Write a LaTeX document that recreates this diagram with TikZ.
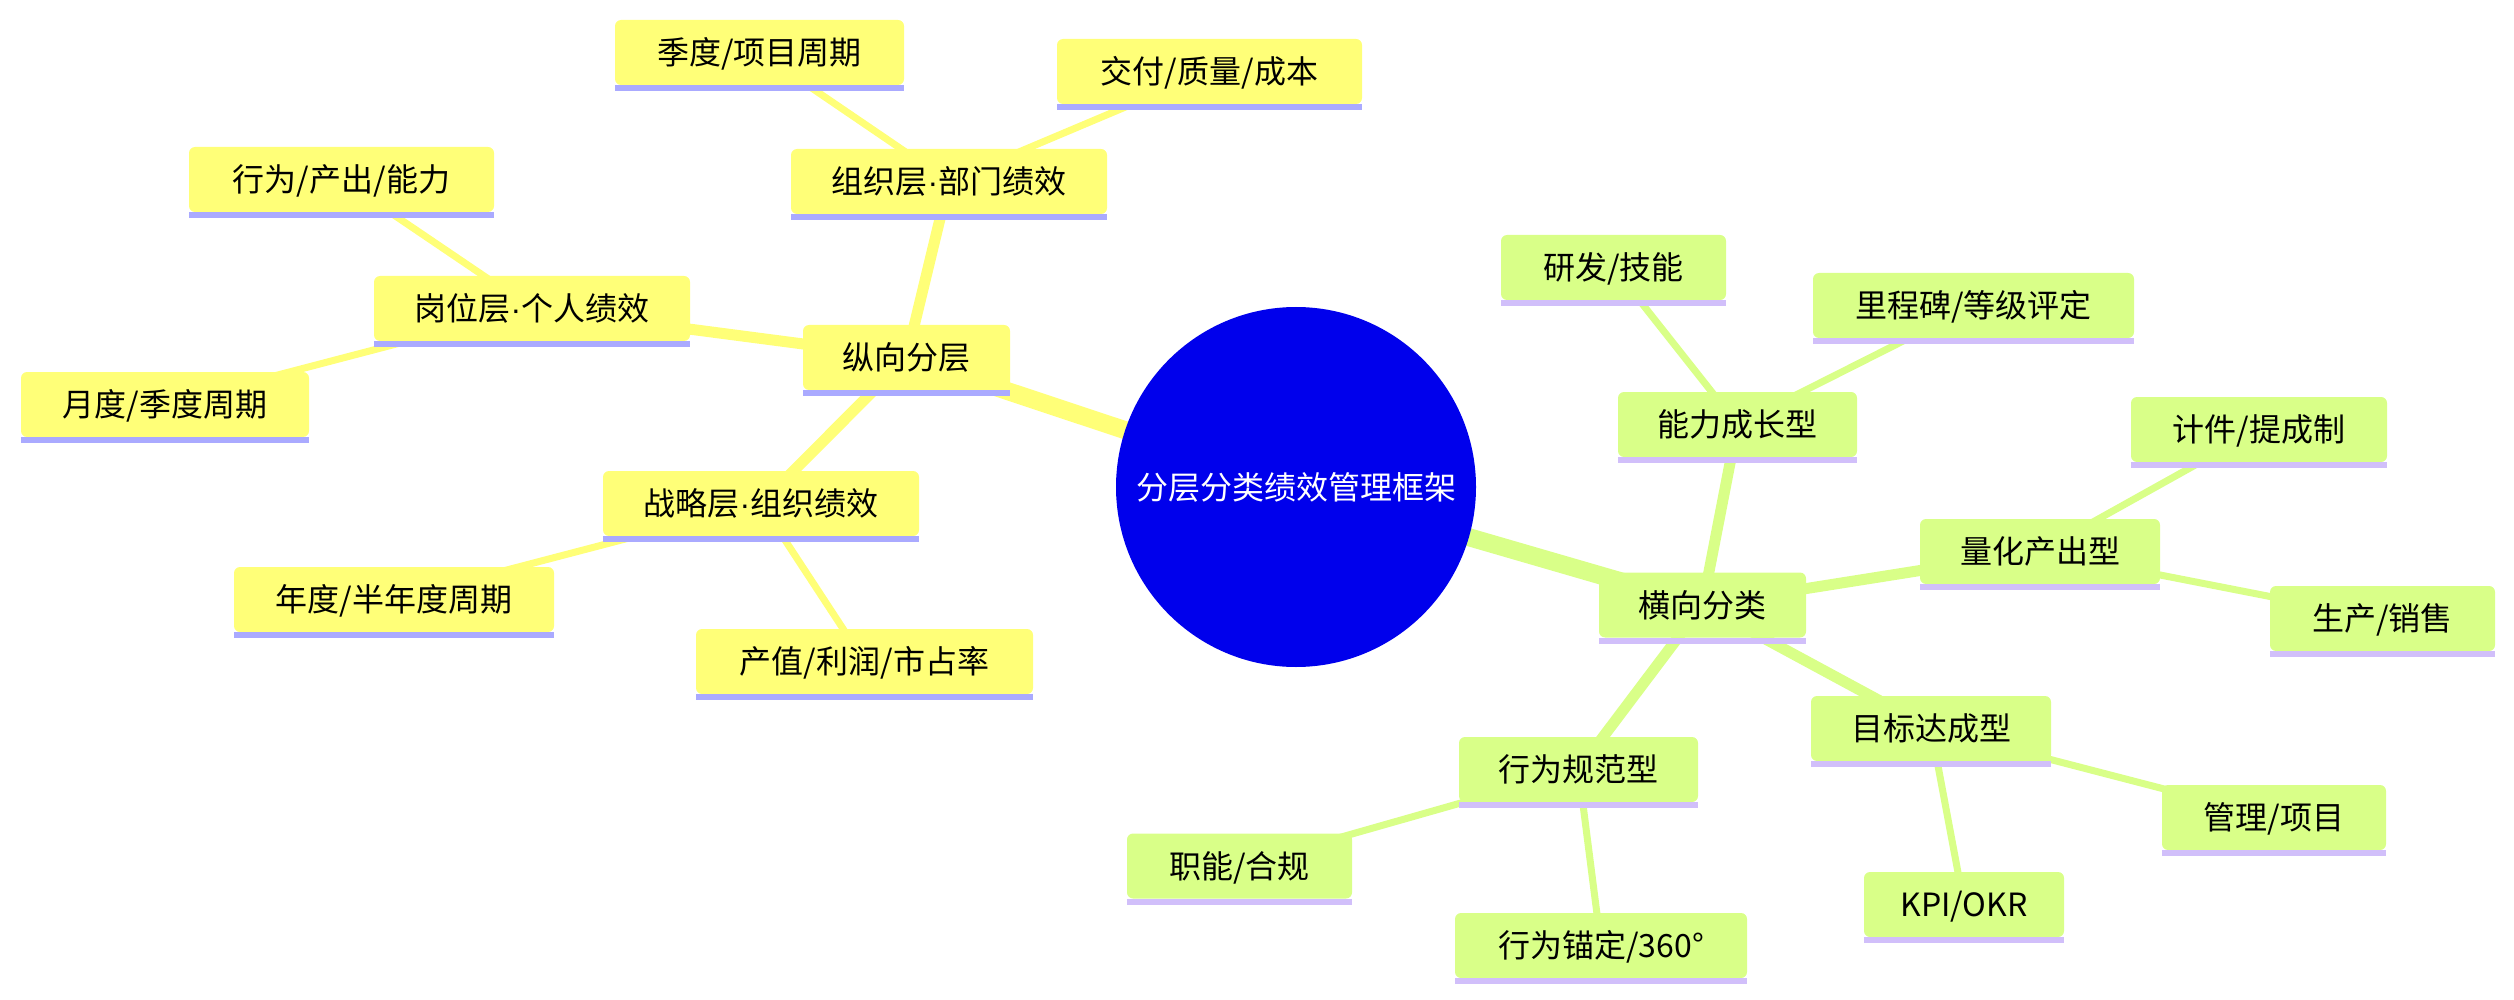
\documentclass[tikz,border=0pt]{standalone}
\usepackage{fontspec}
\setmainfont{Noto Sans CJK SC}
\newfontfamily\dotfont{Liberation Sans}
\newcommand{\mdot}{{\dotfont ·}}
\definecolor{yfillc}{RGB}{255,255,120}
\definecolor{ybarc}{RGB}{170,170,255}
\definecolor{gfillc}{RGB}{217,255,136}
\definecolor{gbarc}{RGB}{209,191,250}
\definecolor{rootblue}{RGB}{0,0,236}
\pgfdeclarelayer{edgelayer}
\pgfsetlayers{edgelayer,main}
\tikzset{
  boxbase/.style={rounded corners=6pt, minimum height=65pt, inner xsep=0pt, inner ysep=0pt,
    font=\fontsize{32}{38}\selectfont, text height=27pt, text depth=3pt, text=black},
  yb/.style={boxbase, fill=yfillc},
  gb/.style={boxbase, fill=gfillc},
  ybarstyle/.style={fill=ybarc},
  gbarstyle/.style={fill=gbarc},
  ye0/.style={draw=yfillc, line width=18pt},
  ye1/.style={draw=yfillc, line width=11pt},
  ye2/.style={draw=yfillc, line width=7pt},
  ge0/.style={draw=gfillc, line width=18pt},
  ge1/.style={draw=gfillc, line width=11pt},
  ge2/.style={draw=gfillc, line width=7pt},
  rootnode/.style={circle, fill=rootblue, minimum size=360pt, inner sep=0pt,
    font=\fontsize{32}{38}\selectfont, text=white, text height=27pt, text depth=3pt}
}
\begin{document}
\begin{tikzpicture}[x=1pt,y=-1pt]
\useasboundingbox (0,0) rectangle (2514,1000);
\node[rootnode] (root) at (1296,487) {分层分类绩效管理框架};
% left section
\node[yb, minimum width=207pt] (A) at (906.5,357.5) {纵向分层};
\node[yb, minimum width=316pt] (B) at (949,181.5) {组织层\mdot 部门绩效};
\node[yb, minimum width=289pt] (C) at (759.5,52.5) {季度/项目周期};
\node[yb, minimum width=305pt] (D) at (1209.5,71.5) {交付/质量/成本};
\node[yb, minimum width=316pt] (E) at (532,308.5) {岗位层\mdot 个人绩效};
\node[yb, minimum width=305pt] (F) at (341.5,179.5) {行为/产出/能力};
\node[yb, minimum width=288pt] (G) at (165,404.5) {月度/季度周期};
\node[yb, minimum width=316pt] (H) at (761,503.5) {战略层\mdot 组织绩效};
\node[yb, minimum width=320pt] (I) at (394,599.5) {年度/半年度周期};
\node[yb, minimum width=337pt] (J) at (864.5,661.5) {产值/利润/市占率};
% right section
\node[gb, minimum width=207pt] (K) at (1702.5,605) {横向分类};
\node[gb, minimum width=239pt] (L) at (1737.5,424.5) {能力成长型};
\node[gb, minimum width=225pt] (M) at (1613.5,267.5) {研发/技能};
\node[gb, minimum width=321pt] (N) at (1973.5,305.5) {里程碑/等级评定};
\node[gb, minimum width=240pt] (O) at (2040,551.5) {量化产出型};
\node[gb, minimum width=256pt] (P) at (2259,429.5) {计件/提成制};
\node[gb, minimum width=225pt] (Q) at (2382.5,618.5) {生产/销售};
\node[gb, minimum width=240pt] (R) at (1931,728.5) {目标达成型};
\node[gb, minimum width=224pt] (S) at (2274,817.5) {管理/项目};
\node[gb, minimum width=200pt] (T) at (1964,904.5) {KPI/OKR};
\node[gb, minimum width=239pt] (U) at (1578.5,769.5) {行为规范型};
\node[gb, minimum width=225pt] (V) at (1239.5,866) {职能/合规};
\node[gb, minimum width=292pt] (W) at (1601,945.5) {行为锚定/360°};
% bottom bars
\foreach \n in {A,B,C,D,E,F,G,H,I,J}
  \path[ybarstyle] (\n.south west) rectangle ([yshift=-6pt]\n.south east);
\foreach \n in {K,L,M,N,O,P,Q,R,S,T,U,V,W}
  \path[gbarstyle] (\n.south west) rectangle ([yshift=-6pt]\n.south east);
% edges behind nodes
\begin{pgfonlayer}{edgelayer}
  \draw[ye0] (root.center) -- (A.center);
  \draw[ye1] (A.center) -- (B.center);
  \draw[ye1] (A.center) -- (E.center);
  \draw[ye1] (A.center) -- (H.center);
  \draw[ye2] (B.center) -- (C.center);
  \draw[ye2] (B.center) -- (D.center);
  \draw[ye2] (E.center) -- (F.center);
  \draw[ye2] (E.center) -- (G.center);
  \draw[ye2] (H.center) -- (I.center);
  \draw[ye2] (H.center) -- (J.center);
  \draw[ge0] (root.center) -- (K.center);
  \draw[ge1] (K.center) -- (L.center);
  \draw[ge1] (K.center) -- (O.center);
  \draw[ge1] (K.center) -- (R.center);
  \draw[ge1] (K.center) -- (U.center);
  \draw[ge2] (L.center) -- (M.center);
  \draw[ge2] (L.center) -- (N.center);
  \draw[ge2] (O.center) -- (P.center);
  \draw[ge2] (O.center) -- (Q.center);
  \draw[ge2] (R.center) -- (S.center);
  \draw[ge2] (R.center) -- (T.center);
  \draw[ge2] (U.center) -- (V.center);
  \draw[ge2] (U.center) -- (W.center);
\end{pgfonlayer}
\end{tikzpicture}
\end{document}
